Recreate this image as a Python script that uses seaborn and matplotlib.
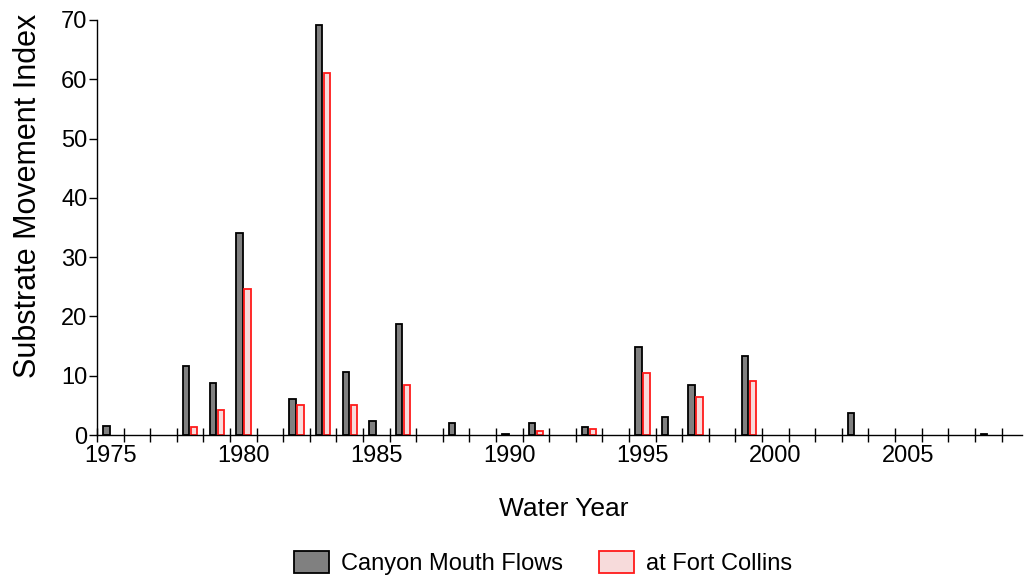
import matplotlib
matplotlib.use('Agg')
import matplotlib.pyplot as plt
import seaborn as sns
import numpy as np
import pandas as pd

years = list(range(1975, 2009))
canyon_mouth = {1975: 1.6, 1978: 11.7, 1979: 8.7, 1980: 34.0, 1982: 6.0, 1983: 69.2,
                1984: 10.7, 1985: 2.3, 1986: 18.8, 1988: 2.0, 1990: 0.2, 1991: 2.0,
                1993: 1.3, 1995: 14.8, 1996: 3.0, 1997: 8.4, 1999: 13.4, 2003: 3.7,
                2008: 0.2}
fort_collins = {1978: 1.3, 1979: 4.3, 1980: 24.6, 1982: 5.0, 1983: 61.1, 1984: 5.0,
                1986: 8.4, 1991: 0.6, 1993: 1.0, 1995: 10.4, 1997: 6.4, 1999: 9.1}
series_names = ['Canyon Mouth Flows', 'at Fort Collins']

rows = []
for name, vals in zip(series_names, [canyon_mouth, fort_collins]):
    for yr, v in vals.items():
        rows.append({'year': yr, 'series': name, 'value': v})
df = pd.DataFrame(rows)

sns.set_style('white')
plt.rcParams['font.family'] = ['Liberation Sans', 'DejaVu Sans']
plt.rcParams['text.color'] = 'black'
plt.rcParams['axes.labelcolor'] = 'black'
plt.rcParams['xtick.color'] = 'black'
plt.rcParams['ytick.color'] = 'black'

fs = 17

fig = plt.figure(figsize=(10.24, 5.79), dpi=100)
ax = fig.add_axes([97 / 1024, 1 - 435 / 579, (1022 - 97) / 1024, (435 - 20) / 579])

sns.barplot(data=df, x='year', y='value', hue='series', order=years,
            hue_order=series_names, palette=['#808080', '#fcd6d6'],
            width=0.6, gap=0.2, dodge=True, errorbar=None, ax=ax,
            linewidth=1.3, legend=True)

# edges: black for gray bars, red for pink bars
for patch in ax.patches:
    fc = patch.get_facecolor()
    if fc[0] > 0.9:
        patch.set_edgecolor('#ff1a1a')
    else:
        patch.set_edgecolor('black')

ax.set_xlim(-0.5, 34.27)
ax.set_ylim(0, 70)
ax.set_yticks(np.arange(0, 71, 10))
ax.tick_params(axis='y', direction='out', length=6, width=1, labelsize=fs, left=True, pad=1)

# tick marks at category boundaries, labels every 5 years at category centers
ax.set_xticks(np.arange(-0.5, len(years), 1.0))
ax.set_xticklabels([])
ax.tick_params(axis='x', which='major', direction='inout', length=10, width=1, bottom=True)
label_years = [y for y in years if y % 5 == 0]
ax.set_xticks([years.index(y) for y in label_years], minor=True)
ax.set_xticklabels([str(y) for y in label_years], minor=True)
ax.tick_params(axis='x', which='minor', length=0, labelsize=fs, pad=7)

for s in ['top', 'right']:
    ax.spines[s].set_visible(False)
for s in ['left', 'bottom']:
    ax.spines[s].set_color('black')
    ax.spines[s].set_linewidth(1)

ax.set_xlabel('Water Year', fontsize=19, labelpad=22)
ax.xaxis.label.set_x(0.505)
ax.set_ylabel('Substrate Movement Index', fontsize=22, labelpad=13)
ax.yaxis.label.set_y(0.576)

handles, labels = ax.get_legend_handles_labels()
ax.legend(handles, labels, loc='center', bbox_to_anchor=(543 / 1024, 1 - 563 / 579),
          bbox_transform=fig.transFigure, ncol=2, frameon=False, fontsize=fs,
          handlelength=1.48, handleheight=1.06, handletextpad=0.5, columnspacing=1.55)

fig.savefig('out.png', dpi=100)
